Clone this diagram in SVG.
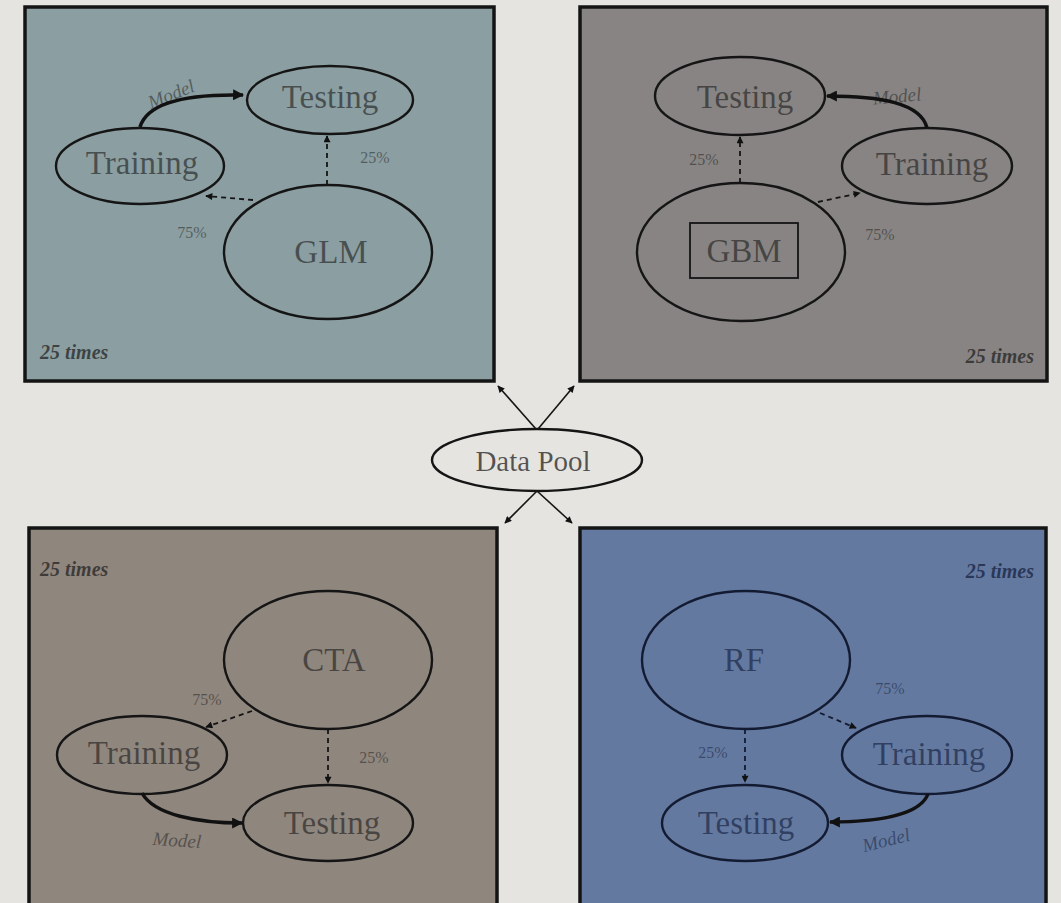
<svg xmlns="http://www.w3.org/2000/svg" width="1061" height="903" viewBox="0 0 1061 903">
<style>
.panel{stroke:#141414;stroke-width:3.5}
.node{fill:none;stroke:#151515;stroke-width:2.4}
.lbl{font-family:"Liberation Serif",serif;font-size:33px;text-anchor:middle;dominant-baseline:central;fill:#1a1a1a;fill-opacity:0.6}
.pct{font-family:"Liberation Serif",serif;font-size:16px;text-anchor:middle;dominant-baseline:central;fill:#1a1a1a;fill-opacity:0.5}
.mdl{font-family:"Liberation Serif",serif;font-size:19px;font-style:italic;text-anchor:middle;dominant-baseline:central;fill:#1a1a1a;fill-opacity:0.5}
.times{font-family:"Liberation Serif",serif;font-size:20px;font-style:italic;font-weight:bold;dominant-baseline:central;fill:#1a1a1a;fill-opacity:0.7}
.dash{fill:none;stroke:#151515;stroke-width:1.8;stroke-dasharray:5 4;marker-end:url(#ah)}
.model{fill:none;stroke:#111;stroke-width:3.5;marker-end:url(#ahb)}
.pool{fill:none;stroke:#151515;stroke-width:1.6;marker-end:url(#ah)}
.rf .node{stroke:#131b32}
.rf .lbl,.rf .pct,.rf .mdl,.rf .times{fill:#0f1a38}
</style>
<defs>
<marker id="ah" viewBox="0 0 10 10" refX="9" refY="5" markerWidth="8" markerHeight="7" orient="auto" markerUnits="userSpaceOnUse"><path d="M0,0 L10,5 L0,10 z" fill="#111"/></marker>
<marker id="ahb" viewBox="0 0 10 10" refX="9" refY="5" markerWidth="13" markerHeight="11" orient="auto" markerUnits="userSpaceOnUse"><path d="M0,0 L10,5 L0,10 z" fill="#111"/></marker>
</defs>
<rect x="0" y="0" width="1061" height="903" fill="#e5e4e0"/>

<g id="panel-glm">
<rect class="panel" x="25" y="7" width="469" height="374" fill="#8b9ea1"/>
<g id="glm-testing"><ellipse class="node" cx="330" cy="100" rx="83" ry="34"/><text class="lbl" x="330" y="97">Testing</text></g>
<g id="glm-training"><ellipse class="node" cx="140" cy="166" rx="84" ry="38"/><text class="lbl" x="142" y="163">Training</text></g>
<g id="glm-node"><ellipse class="node" cx="328" cy="252" rx="104" ry="67"/><text class="lbl" x="331" y="252">GLM</text></g>
<text class="pct" x="375" y="157">25%</text>
<text class="pct" x="192" y="232">75%</text>
<text class="mdl" x="171" y="94" transform="rotate(-22 171 94)">Model</text>
<text class="times" x="40" y="352">25 times</text>
</g>

<g id="panel-gbm">
<rect class="panel" x="580" y="7" width="467" height="374" fill="#878483"/>
<g id="gbm-testing"><ellipse class="node" cx="740" cy="96" rx="85" ry="39"/><text class="lbl" x="745" y="97">Testing</text></g>
<g id="gbm-training"><ellipse class="node" cx="927" cy="166" rx="85" ry="38"/><text class="lbl" x="932" y="164">Training</text></g>
<g id="gbm-node"><ellipse class="node" cx="741" cy="252" rx="104" ry="69"/><rect x="690" y="223" width="108" height="55" fill="none" stroke="#151515" stroke-width="1.8"/><text class="lbl" x="744" y="251">GBM</text></g>
<text class="pct" x="704" y="159">25%</text>
<text class="pct" x="880" y="234">75%</text>
<text class="mdl" x="897" y="96" transform="rotate(-5 897 96)">Model</text>
<text class="times" x="1034" y="356" text-anchor="end">25 times</text>
</g>

<g id="panel-cta">
<rect class="panel" x="29" y="528" width="468" height="380" fill="#8f867e"/>
<g id="cta-node"><ellipse class="node" cx="328" cy="660" rx="104" ry="69"/><text class="lbl" x="334" y="660">CTA</text></g>
<g id="cta-training"><ellipse class="node" cx="142" cy="755" rx="85" ry="39"/><text class="lbl" x="144" y="753">Training</text></g>
<g id="cta-testing"><ellipse class="node" cx="328" cy="823" rx="85" ry="38"/><text class="lbl" x="332" y="823">Testing</text></g>
<text class="pct" x="207" y="699">75%</text>
<text class="pct" x="374" y="757">25%</text>
<text class="mdl" x="177" y="840" transform="rotate(4 177 840)">Model</text>
<text class="times" x="40" y="569">25 times</text>
</g>

<g id="panel-rf" class="rf">
<rect class="panel" x="580" y="528" width="466" height="380" fill="#6479a0"/>
<g id="rf-node"><ellipse class="node" cx="746" cy="660" rx="104" ry="69"/><text class="lbl" x="744" y="660">RF</text></g>
<g id="rf-training"><ellipse class="node" cx="927" cy="755" rx="85" ry="39"/><text class="lbl" x="929" y="754">Training</text></g>
<g id="rf-testing"><ellipse class="node" cx="745" cy="823" rx="83" ry="38"/><text class="lbl" x="746" y="823">Testing</text></g>
<text class="pct" x="890" y="688">75%</text>
<text class="pct" x="713" y="752">25%</text>
<text class="mdl" x="886" y="840" transform="rotate(-14 886 840)">Model</text>
<text class="times" x="1034" y="571" text-anchor="end">25 times</text>
</g>

<g id="data-pool">
<ellipse class="node" cx="537" cy="460" rx="105" ry="31"/>
<text class="lbl" x="533" y="461" style="font-size:29px;fill-opacity:0.72">Data Pool</text>
</g>

<g id="connectors">
<path class="dash" d="M327,185 L327,136"/>
<path class="dash" d="M253,200 L206,196"/>
<path class="model" d="M140,127 C148,100 195,94 243,95"/>
<path class="dash" d="M740,183 L740,137"/>
<path class="dash" d="M818,202 L860,193"/>
<path class="model" d="M927,128 C921,103 880,96 827,96"/>
<path class="dash" d="M252,711 L206,727"/>
<path class="dash" d="M328,729 L328,783"/>
<path class="model" d="M142,793 C154,815 198,823 242,823"/>
<path class="dash" d="M820,713 L856,728" style="stroke:#131b32"/>
<path class="dash" d="M745,729 L745,782" style="stroke:#131b32"/>
<path class="model" d="M928,794 C920,815 878,822 830,822"/>
<path class="pool" d="M536,429 L498,386"/>
<path class="pool" d="M538,429 L574,386"/>
<path class="pool" d="M537,491 L505,523"/>
<path class="pool" d="M537,491 L572,523"/>
</g>
</svg>
